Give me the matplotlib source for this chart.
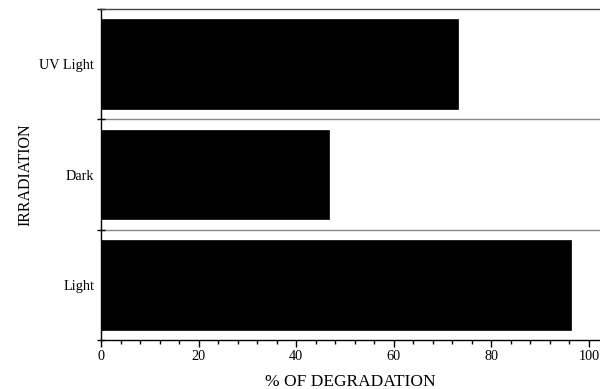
import matplotlib
matplotlib.use("Agg")
import matplotlib.pyplot as plt
from matplotlib.ticker import FixedLocator, MultipleLocator, NullFormatter

# degradation results per irradiation condition (bottom to top)
conditions = ["Light", "Dark", "UV Light"]
degradation = [96.4, 46.8, 73.2]

plt.rcParams["font.family"] = ["Liberation Serif", "DejaVu Serif"]

fig = plt.figure(figsize=(6.0, 3.89), dpi=100)
ax = fig.add_axes([101 / 600, 49 / 389, 499 / 600, 331 / 389])

pos = list(range(len(conditions)))
ax.barh(pos, degradation, height=0.81, color="black", edgecolor="black", lw=0.5)

ax.set_xlim(0, 102.25)
ax.set_ylim(-0.5, len(conditions) - 0.5)

# x axis: major every 20, minor every 4, ticks pointing down
ax.xaxis.set_major_locator(MultipleLocator(20))
ax.xaxis.set_minor_locator(MultipleLocator(4))
ax.tick_params(axis="x", which="major", direction="out", length=5, width=1,
               labelsize=10.3, pad=2)
ax.tick_params(axis="x", which="minor", direction="out", length=3, width=1)

# y axis: tick marks on band boundaries, names centred in each band
bounds = [p - 0.5 for p in pos] + [pos[-1] + 0.5]
ax.yaxis.set_major_locator(FixedLocator(bounds))
ax.yaxis.set_major_formatter(NullFormatter())
ax.yaxis.set_minor_locator(FixedLocator(pos))
ax.set_yticklabels(conditions, minor=True)
ax.tick_params(axis="y", which="major", direction="inout", length=6, width=1)
ax.tick_params(axis="y", which="minor", length=0, labelsize=10.3, pad=5)

# separators between bands
for b in bounds[1:-1]:
    ax.axhline(b, color="#888888", lw=1, zorder=0)

ax.spines["right"].set_visible(False)
ax.spines["top"].set_color("#444444")
ax.spines["top"].set_linewidth(1)
ax.spines["left"].set_linewidth(1)
ax.spines["bottom"].set_linewidth(1)

ax.set_xlabel("% OF DEGRADATION", fontsize=12.5, labelpad=8)
ax.set_ylabel("IRRADIATION", fontsize=11.5, labelpad=4)

fig.savefig("out.png", dpi=100)
